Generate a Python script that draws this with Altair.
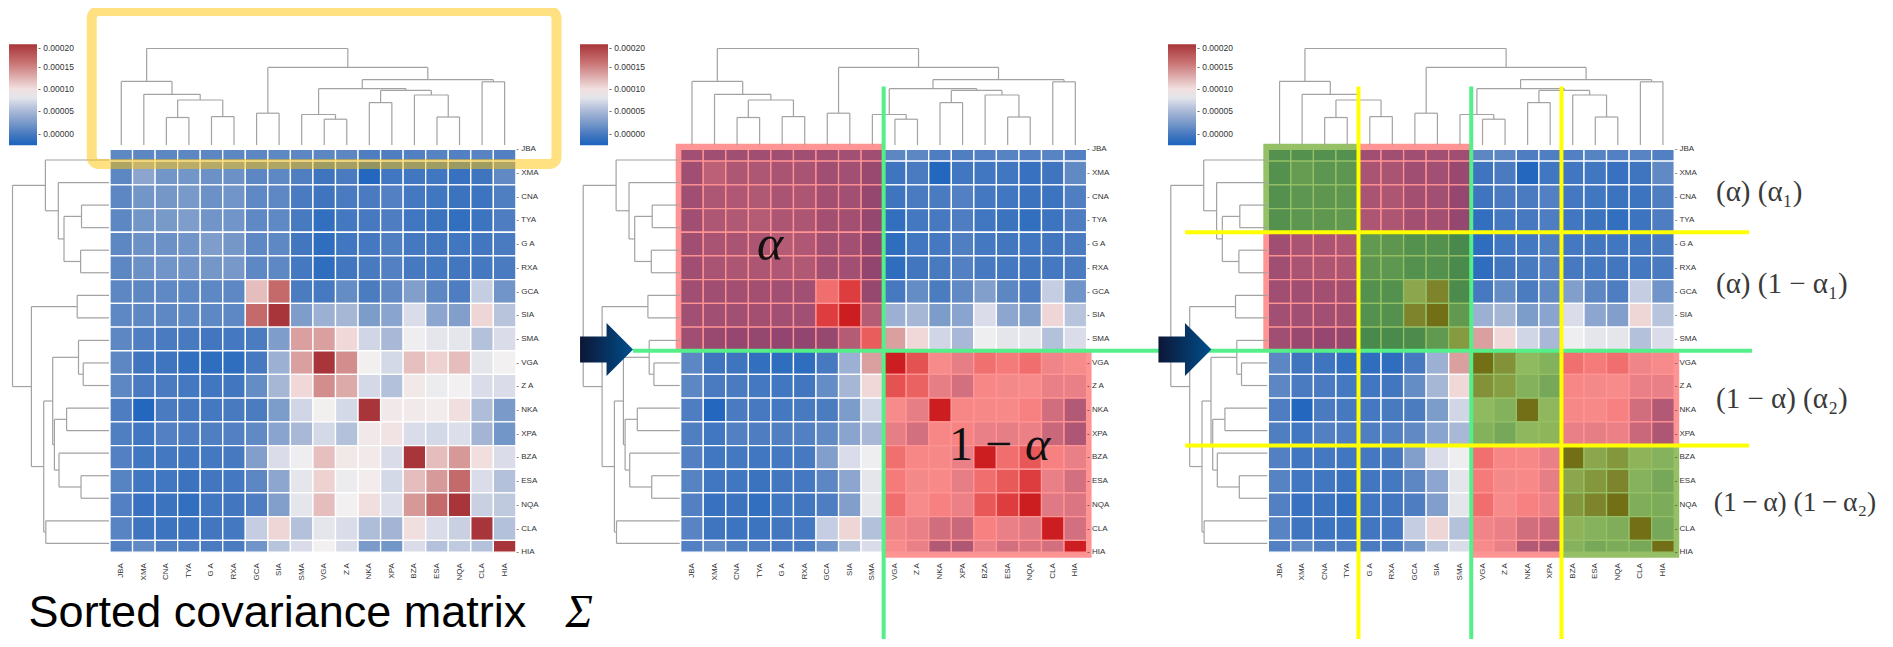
import altair as alt
import pandas as pd

# ---------------- data ----------------
labels = ["JBA", "XMA", "CNA", "TYA", "G A", "RXA", "GCA", "SIA", "SMA",
          "VGA", "Z A", "NKA", "XPA", "BZA", "ESA", "NQA", "CLA", "HIA"]

# lower triangle of the (symmetric) covariance matrix, units of 1e-5
r_JBA = [1.0]
r_XMA = [0.9, 3.4]
r_CNA = [0.9, 2.1, 2.2]
r_TYA = [0.9, 2.1, 2.4, 2.7]
r_GA = [0.9, 1.7, 1.7, 2.0, 2.7]
r_RXA = [0.9, 1.7, 2.0, 2.0, 2.2, 2.3]
r_GCA = [0.9, 0.9, 1.1, 1.1, 1.0, 1.0, 11.9]
r_SIA = [1.0, 1.0, 1.0, 1.1, 1.0, 1.0, 16.4, 20.0]
r_SMA = [0.9, 0.3, 0.0, -0.1, -0.4, -0.3, 0.1, 2.7, 13.4]
r_VGA = [0.9, -0.6, -0.6, -1.2, -1.4, -1.4, -0.2, 4.3, 13.4, 20.0]
r_ZA = [0.9, 0.0, 0.0, -0.3, -0.5, -0.4, 1.4, 4.9, 10.5, 14.4, 12.9]
r_NKA = [0.2, -2.0, 0.0, -0.2, -0.3, -0.1, 0.1, 2.6, 7.0, 8.9, 7.2, 20.0]
r_XPA = [0.3, -0.5, 0.4, 0.2, 0.3, 0.4, 1.2, 3.3, 5.0, 7.2, 5.6, 9.3, 9.7]
r_BZA = [0.4, -0.5, -0.3, -0.5, -0.3, -0.2, 2.9, 7.5, 8.6, 11.8, 9.4, 9.2, 7.5, 20.0]
r_ESA = [0.6, -0.5, -0.5, -0.8, -0.4, -0.3, 0.9, 3.5, 8.1, 10.8, 8.5, 9.1, 7.2, 11.9, 13.7]
r_NQA = [0.4, -1.0, -0.8, -1.2, -0.5, -0.4, 0.2, 2.9, 8.1, 11.9, 8.8, 10.0, 7.6, 13.8, 16.4, 20.0]
r_CLA = [0.7, -0.6, -0.7, -0.7, -0.4, -0.3, 6.4, 10.6, 5.6, 8.1, 7.5, 5.3, 4.7, 10.0, 7.5, 6.6, 20.0]
r_HIA = [0.4, 1.2, 0.3, 0.2, 0.0, 0.0, 2.0, 5.8, 7.5, 8.8, 7.5, 2.5, 2.1, 7.5, 5.6, 6.2, 5.6, 20.0]
lower_rows = [r_JBA, r_XMA, r_CNA, r_TYA, r_GA, r_RXA, r_GCA, r_SIA, r_SMA,
              r_VGA, r_ZA, r_NKA, r_XPA, r_BZA, r_ESA, r_NQA, r_CLA, r_HIA]
UNIT = 1e-5

# colour map (vlag-like), stops in units of 1e-5
cmap_values = [-2.64, -2.0, 0.0, 2.1, 5.0, 7.4, 8.8, 10.5, 13.6, 16.0, 20.0]
cmap_colors = ["#2064bd", "#2467be", "#4a7bc0", "#7396c8", "#a8b8d6", "#d8dce8",
               "#f2f0f0", "#f0d8d8", "#d89c9c", "#c87070", "#a83539"]
cb_ticks = [0.0, 5.0, 10.0, 15.0, 20.0]

# hierarchical clustering (leaf ids 0..17, merge ids 18..), height in linkage units
merges = [(9, 10, 25.8), (2, 3, 27.5), (14, 15, 28.0), (4, 5, 28.4), (8, 18, 30.5),
          (6, 7, 31.8), (11, 12, 42.4), (19, 21, 45.0), (13, 20, 50.0), (1, 25, 50.7),
          (24, 26, 54.6), (22, 28, 56.3), (16, 17, 63.2), (0, 27, 63.6), (29, 30, 65.3),
          (23, 32, 77.6), (31, 33, 96.5)]

# block overlays: (row0, row1, col0, col1, kind)
blocks_p2 = [(0, 9, 0, 9, "red"), (9, 18, 9, 18, "red")]
blocks_p3 = [(0, 4, 0, 4, "green"), (0, 4, 4, 9, "red"), (4, 9, 0, 4, "red"), (4, 9, 4, 9, "green"),
             (9, 13, 9, 13, "green"), (9, 13, 13, 18, "red"), (13, 18, 9, 13, "red"),
             (13, 18, 13, 18, "green")]

# ---------------- layout (cell units) ----------------
N = 18
W, H = 1877, 631
CELL_W, ROW_H = 22.55, 23.7
X_ORG, Y_ORG = 102.0, 129.45          # chart-local px of unit (0, 0)
PANEL_OFF = [0.0, 570.7 / CELL_W, 1158.3 / CELL_W]
XS = alt.Scale(domain=[-X_ORG / CELL_W, (W - X_ORG) / CELL_W], nice=False, zero=False)
YS = alt.Scale(domain=[-Y_ORG / ROW_H, (H - Y_ORG) / ROW_H], nice=False, zero=False, reverse=True)
Y_MAX = (H - Y_ORG) / ROW_H
TOP_BASE = 0.3186                      # baseline of the column dendrogram
LEFT_BASE = -0.044                     # baseline of the row dendrogram
LEFT_Y0, LEFT_STEP = 0.9515, 0.9515    # row-dendrogram leaf spacing
VIS_TOP, VIS_BOT = 0.5, 17.5
MX, MY = 5 / CELL_W, 5.5 / ROW_H

M = [[0.0] * N for _ in range(N)]
for i, row in enumerate(lower_rows):
    for j, v in enumerate(row):
        M[i][j] = v
        M[j][i] = v

CS = alt.Scale(domain=[v * UNIT for v in cmap_values], range=cmap_colors, interpolate="rgb")


def X(f="x"):
    return alt.X(f"{f}:Q", scale=XS, axis=None)


def Y(f="y"):
    return alt.Y(f"{f}:Q", scale=YS, axis=None)


legend_x = [1, 572, 1160]
layers = []

# heatmaps
for p, off in enumerate(PANEL_OFF):
    recs = []
    for i in range(N):
        for j in range(N):
            recs.append(dict(x=off + j, x2=off + j + 1, y=max(i, VIS_TOP), y2=min(i + 1, VIS_BOT),
                             v=M[i][j] * UNIT, row=labels[i], col=labels[j]))
    df = pd.DataFrame(recs)
    layers.append(
        alt.Chart(df).mark_rect(stroke="white", strokeWidth=1.3).encode(
            x=X(), x2="x2", y=Y(), y2="y2",
            color=alt.Color("v:Q", scale=CS, legend=alt.Legend(
                orient="none", legendX=legend_x[p], legendY=36.3, title=None, direction="vertical",
                gradientLength=101, gradientThickness=28, gradientStrokeWidth=0,
                values=[t * UNIT for t in cb_ticks], format=".5f", labelExpr="'- ' + datum.label",
                labelFontSize=8.5, labelColor="#333333", labelFont="Liberation Sans",
                labelOffset=1, labelBaseline="middle", labelOverlap=False, padding=0)))
    )

# overlays
ov = []
for p, blocks in ((1, blocks_p2), (2, blocks_p3)):
    off = PANEL_OFF[p]
    for r0, r1, c0, c1, kind in blocks:
        ov.append(dict(
            x=off + c0 - (MX if c0 == 0 else 0), x2=off + c1 + (MX if c1 == N else 0),
            y=max(r0, VIS_TOP) - (MY if r0 == 0 else 0), y2=min(r1, VIS_BOT) + (MY if r1 == N else 0),
            kind=kind))
ovdf = pd.DataFrame(ov)
layers.append(alt.Chart(ovdf).transform_filter("datum.kind == 'red'").mark_rect(
    fill="#ff0000", opacity=0.42).encode(x=X(), x2="x2", y=Y(), y2="y2"))
layers.append(alt.Chart(ovdf).transform_filter("datum.kind == 'green'").mark_rect(
    fill="#4f9600", opacity=0.6).encode(x=X(), x2="x2", y=Y(), y2="y2"))

# dendrograms
pos = {k: float(k) for k in range(N)}
hgt = {k: 0.0 for k in range(N)}
segs = []
for k, (a, b, h) in enumerate(merges, start=N):
    pos[k] = (pos[a] + pos[b]) / 2
    hgt[k] = h
    segs += [(pos[a], hgt[a], pos[a], h), (pos[a], h, pos[b], h), (pos[b], hgt[b], pos[b], h)]
dend = []
for off in PANEL_OFF:
    for p0, h0, p1, h1 in segs:
        # column dendrogram (top)
        dend.append(dict(x=off + p0 + 0.5, x2=off + p1 + 0.5,
                         y=TOP_BASE - h0 / ROW_H, y2=TOP_BASE - h1 / ROW_H))
        # row dendrogram (left)
        dend.append(dict(x=off + LEFT_BASE - h0 / CELL_W, x2=off + LEFT_BASE - h1 / CELL_W,
                         y=LEFT_Y0 + p0 * LEFT_STEP, y2=LEFT_Y0 + p1 * LEFT_STEP))
layers.append(alt.Chart(pd.DataFrame(dend)).mark_rule(color="#a2a2a2", strokeWidth=1.2).encode(
    x=X(), x2="x2", y=Y(), y2="y2"))

# row / column labels
lab = []
for off in PANEL_OFF:
    for i, name in enumerate(labels):
        lab.append(dict(kind="row", x=off + N + 0.02, y=i + 0.5, t="- " + name))
        lab.append(dict(kind="col", x=off + i + 0.5, y=17.96, t=name))
labdf = pd.DataFrame(lab)
layers.append(alt.Chart(labdf).transform_filter("datum.kind == 'row'").mark_text(
    align="left", baseline="middle", fontSize=8, font="Liberation Sans", color="#333333").encode(
    x=X(), y=Y(), text="t:N"))
layers.append(alt.Chart(labdf).transform_filter("datum.kind == 'col'").mark_text(
    align="right", baseline="middle", angle=270, fontSize=8, font="Liberation Sans",
    color="#333333").encode(x=X(), y=Y(), text="t:N"))

# yellow highlight of the column dendrogram (panel 1)
box = pd.DataFrame([dict(x=-0.81, x2=19.8, y=-5.34, y2=1.12)])
layers.append(alt.Chart(box).mark_rect(fillOpacity=0, stroke="#ffc305", strokeOpacity=0.5,
                                       strokeWidth=10, cornerRadius=7).encode(
    x=X(), x2="x2", y=Y(), y2="y2"))

# split lines
o2, o3 = PANEL_OFF[1], PANEL_OFF[2]
green = pd.DataFrame([
    dict(x=23.19, x2=72.82, y=9, y2=9),
    dict(x=o2 + 9, x2=o2 + 9, y=-2.15, y2=Y_MAX),
    dict(x=o3 + 9, x2=o3 + 9, y=-2.15, y2=Y_MAX),
])
yellow = pd.DataFrame([
    dict(x=o3 + 4, x2=o3 + 4, y=-2.15, y2=Y_MAX),
    dict(x=o3 + 13, x2=o3 + 13, y=-2.15, y2=Y_MAX),
    dict(x=o3 - 3.69, x2=o3 + 21.32, y=4, y2=4),
    dict(x=o3 - 3.69, x2=o3 + 21.32, y=13, y2=13),
])
layers.append(alt.Chart(green).mark_rule(color="#55ef8a", strokeWidth=4).encode(
    x=X(), x2="x2", y=Y(), y2="y2"))
layers.append(alt.Chart(yellow).mark_rule(color="#ffff00", strokeWidth=4).encode(
    x=X(), x2="x2", y=Y(), y2="y2"))

# arrows
ARROW = "M-1,-0.49L0,-0.49L0,-1L1,0L0,1L0,0.49L-1,0.49Z"
grad = alt.LinearGradient(gradient="linear",
                          stops=[alt.GradientStop(color="#0c1636", offset=0),
                                 alt.GradientStop(color="#004f8c", offset=1)],
                          x1=0, x2=1, y1=0.5, y2=0.5)
arrows = pd.DataFrame([dict(x=22.02, y=8.95), dict(x=47.67, y=8.95)])
layers.append(alt.Chart(arrows).mark_point(shape=ARROW, size=53 * 53, filled=True, fill=grad,
                                           opacity=1, strokeWidth=0).encode(x=X(), y=Y()))

# annotations
THIN = "\u2009"
math_lab = pd.DataFrame([
    dict(x=71.22, y=2.68, t="(α) (α₁)", s=29),
    dict(x=71.22, y=6.56, t="(α) (1 − α₁)", s=29),
    dict(x=71.22, y=11.41, t="(1 − α) (α₂)", s=29),
    dict(x=71.12, y=15.76, t=f"(1{THIN}−{THIN}α) (1{THIN}−{THIN}α₂)", s=27.5),
])
layers.append(alt.Chart(math_lab).mark_text(align="left", baseline="alphabetic",
                                            font="Liberation Serif", color="#3a3a3a").encode(
    x=X(), y=Y(), text="t:N", size=alt.Size("s:Q", scale=None, legend=None)))
alpha_it = pd.DataFrame([dict(x=29.27, y=5.17, t="α"),
                         dict(x=40.58, y=13.61, t="α")])
layers.append(alt.Chart(alpha_it.iloc[[0]]).mark_text(align="center", baseline="alphabetic",
                                                      fontSize=50, font="Liberation Serif",
                                                      fontStyle="italic", color="#111111").encode(
    x=X(), y=Y(), text="t:N"))
layers.append(alt.Chart(alpha_it.iloc[[1]]).mark_text(align="left", baseline="alphabetic",
                                                      fontSize=48, font="Liberation Serif",
                                                      fontStyle="italic", color="#111111").encode(
    x=X(), y=Y(), text="t:N"))
one_minus = pd.DataFrame([dict(x=40.0, y=13.61, t="1 −")])
layers.append(alt.Chart(one_minus).mark_text(align="right", baseline="alphabetic", fontSize=48,
                                             font="Liberation Serif", color="#111111").encode(
    x=X(), y=Y(), text="t:N"))
caption = pd.DataFrame([dict(x=-3.61, y=20.66, t="Sorted covariance matrix")])
layers.append(alt.Chart(caption).mark_text(align="left", baseline="alphabetic", fontSize=45,
                                           font="Liberation Sans", color="#000000").encode(
    x=X(), y=Y(), text="t:N"))
sigma = pd.DataFrame([dict(x=20.2, y=20.66, t="Σ")])
layers.append(alt.Chart(sigma).mark_text(align="left", baseline="alphabetic", fontSize=46,
                                         font="Liberation Serif", fontStyle="italic",
                                         color="#000000").encode(x=X(), y=Y(), text="t:N"))

chart = alt.layer(*layers).resolve_scale(color="independent").properties(
    width=W, height=H, autosize=alt.AutoSizeParams(type="none"), padding=0
).configure_view(stroke=None)

chart.save("out.html", embed_options={"renderer": "svg", "actions": False})
